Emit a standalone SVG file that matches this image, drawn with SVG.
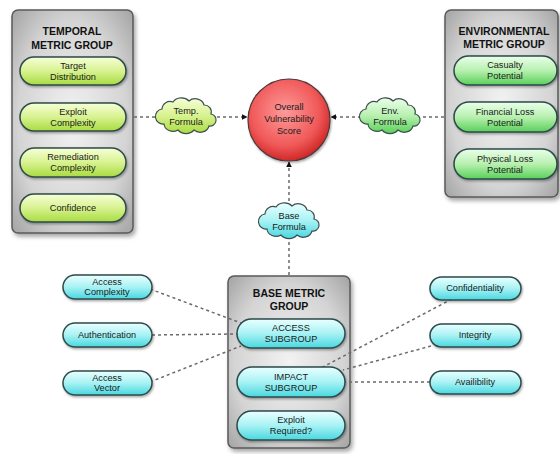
<svg xmlns="http://www.w3.org/2000/svg" xmlns:xlink="http://www.w3.org/1999/xlink" width="560" height="454" viewBox="0 0 560 454">
<style>
text{font-family:"Liberation Sans",Arial,sans-serif;fill:#1a1a1a;text-anchor:middle}
.t{font-weight:bold;font-size:10.5px;fill:#111}
.p{font-size:9.2px}
.grp{fill:url(#gray);stroke:#5a5a5a;stroke-width:1.5;filter:url(#sh)}
.pill{stroke:#2e4a4a;stroke-width:1.5;filter:url(#sh2)}
.yg{fill:url(#yg)}
.lg{fill:url(#lg)}
.cy{fill:url(#cy)}
.cn line{stroke:#6a6a6a;stroke-width:1.5;stroke-dasharray:3,3}
.cloud{stroke:#3e4e4e;stroke-width:1.2}
</style>
<defs>
<radialGradient id="gray" cx="0.5" cy="0.5" r="0.75">
<stop offset="0" stop-color="#f2f2f2"/><stop offset="0.6" stop-color="#d4d4d4"/><stop offset="1" stop-color="#9a9a9a"/>
</radialGradient>
<linearGradient id="yg" x1="0" y1="0" x2="0" y2="1">
<stop offset="0" stop-color="#f6ffd8"/><stop offset="0.5" stop-color="#d8f290"/><stop offset="1" stop-color="#a8dc40"/>
</linearGradient>
<linearGradient id="lg" x1="0" y1="0" x2="0" y2="1">
<stop offset="0" stop-color="#eaffea"/><stop offset="0.5" stop-color="#b8f0b0"/><stop offset="1" stop-color="#58d058"/>
</linearGradient>
<linearGradient id="cy" x1="0" y1="0" x2="0" y2="1">
<stop offset="0" stop-color="#eaffff"/><stop offset="0.5" stop-color="#a8f2f4"/><stop offset="1" stop-color="#48d8e0"/>
</linearGradient>
<radialGradient id="red" cx="0.45" cy="0.4" r="0.6">
<stop offset="0" stop-color="#ff9a9a"/><stop offset="0.7" stop-color="#f05858"/><stop offset="1" stop-color="#d02828"/>
</radialGradient>
<filter id="sh" x="-10%" y="-10%" width="125%" height="125%">
<feDropShadow dx="2" dy="3" stdDeviation="2" flood-color="#000" flood-opacity="0.35"/>
</filter>
<filter id="sh2" x="-10%" y="-20%" width="125%" height="150%">
<feDropShadow dx="1" dy="1.5" stdDeviation="1" flood-color="#000" flood-opacity="0.35"/>
</filter>
<marker id="ah" viewBox="0 0 10 10" refX="9" refY="5" markerWidth="6" markerHeight="6" orient="auto" markerUnits="userSpaceOnUse">
<path d="M0,0 L10,5 L0,10 z" fill="#111"/>
</marker>
<path id="cloud" d="M-26,-8 a8,8 0 0 1 11,-7 a10,9 0 0 1 16,-1 a9,8 0 0 1 15,4 a7,7 0 0 1 7,9 a6,6 0 0 1 -2,12 a9,8 0 0 1 -15,4 a10,9 0 0 1 -16,0 a9,8 0 0 1 -14,-6 a7,7 0 0 1 -2,-15 z"/>
</defs>

<g id="temporal-group">
<rect class="grp" x="12" y="10" width="121" height="223" rx="6"/>
<text class="t" x="72" y="35">TEMPORAL</text>
<text class="t" x="72" y="49">METRIC GROUP</text>
</g>
<g id="environmental-group">
<rect class="grp" x="445" y="10" width="113" height="187" rx="6"/>
<text class="t" x="504" y="35">ENVIRONMENTAL</text>
<text class="t" x="504" y="48">METRIC GROUP</text>
</g>
<g id="base-group">
<rect class="grp" x="228" y="276" width="122" height="172" rx="6"/>
<text class="t" x="289" y="297">BASE METRIC</text>
<text class="t" x="289" y="310">GROUP</text>
</g>

<g id="connectors" class="cn">
<line x1="134" y1="117" x2="157" y2="117"/>
<line x1="217" y1="117" x2="247" y2="117" marker-end="url(#ah)"/>
<line x1="444" y1="117" x2="421" y2="117"/>
<line x1="361" y1="117" x2="331" y2="117" marker-end="url(#ah)"/>
<line x1="289" y1="275" x2="289" y2="237"/>
<line x1="289" y1="207" x2="289" y2="162" marker-end="url(#ah)"/>
<line x1="150" y1="289" x2="241" y2="323"/>
<line x1="152" y1="335" x2="237" y2="334"/>
<line x1="150" y1="382" x2="241" y2="346"/>
<line x1="452" y1="299" x2="321" y2="368"/>
<line x1="431" y1="346" x2="343" y2="370"/>
<line x1="430" y1="382" x2="345" y2="382"/>
</g>

<g id="target-distribution"><rect class="pill yg" x="20" y="57" width="106" height="28" rx="14"/><text class="p" x="73" y="69">Target</text><text class="p" x="73" y="80">Distribution</text></g>
<g id="exploit-complexity"><rect class="pill yg" x="20" y="103" width="106" height="28" rx="14"/><text class="p" x="73" y="115">Exploit</text><text class="p" x="73" y="126">Complexity</text></g>
<g id="remediation-complexity"><rect class="pill yg" x="20" y="148" width="106" height="29" rx="14.5"/><text class="p" x="73" y="160">Remediation</text><text class="p" x="73" y="171">Complexity</text></g>
<g id="confidence"><rect class="pill yg" x="20" y="194" width="106" height="28" rx="14"/><text class="p" x="73" y="211">Confidence</text></g>

<g id="casualty-potential"><rect class="pill lg" x="454" y="56" width="103" height="29" rx="14.5"/><text class="p" x="505" y="68">Casualty</text><text class="p" x="505" y="79">Potential</text></g>
<g id="financial-loss-potential"><rect class="pill lg" x="454" y="102" width="103" height="30" rx="15"/><text class="p" x="505" y="115">Financial Loss</text><text class="p" x="505" y="126">Potential</text></g>
<g id="physical-loss-potential"><rect class="pill lg" x="454" y="149" width="103" height="30" rx="15"/><text class="p" x="505" y="162">Physical Loss</text><text class="p" x="505" y="173">Potential</text></g>

<g id="overall-score">
<circle cx="289" cy="120" r="41" fill="url(#red)" stroke="#4a3a3a" stroke-width="1.2" filter="url(#sh2)"/>
<text class="p" x="289" y="110">Overall</text>
<text class="p" x="289" y="122">Vulnerability</text>
<text class="p" x="289" y="134">Score</text>
</g>

<g id="temp-formula"><use xlink:href="#cloud" x="188" y="117" class="cloud" fill="url(#yg)"/><text class="p" x="186" y="114">Temp.</text><text class="p" x="186" y="125">Formula</text></g>
<g id="env-formula"><use xlink:href="#cloud" x="392" y="117" class="cloud" fill="url(#lg)"/><text class="p" x="390" y="114">Env.</text><text class="p" x="390" y="125">Formula</text></g>
<g id="base-formula"><use xlink:href="#cloud" x="291" y="222" class="cloud" fill="url(#cy)"/><text class="p" x="289" y="219">Base</text><text class="p" x="289" y="230">Formula</text></g>

<g id="access-subgroup"><rect class="pill cy" x="237" y="319" width="108" height="29" rx="14.5"/><text class="p" x="291" y="331">ACCESS</text><text class="p" x="291" y="342">SUBGROUP</text></g>
<g id="impact-subgroup"><rect class="pill cy" x="237" y="367" width="108" height="30" rx="15"/><text class="p" x="291" y="380">IMPACT</text><text class="p" x="291" y="391">SUBGROUP</text></g>
<g id="exploit-required"><rect class="pill cy" x="237" y="411" width="108" height="29" rx="14.5"/><text class="p" x="291" y="423">Exploit</text><text class="p" x="291" y="434">Required?</text></g>

<g id="access-complexity"><rect class="pill cy" x="63" y="275" width="89" height="24" rx="12"/><text class="p" x="107" y="285">Access</text><text class="p" x="107" y="295">Complexity</text></g>
<g id="authentication"><rect class="pill cy" x="63" y="323" width="89" height="24" rx="12"/><text class="p" x="107" y="338">Authentication</text></g>
<g id="access-vector"><rect class="pill cy" x="63" y="371" width="89" height="24" rx="12"/><text class="p" x="107" y="381">Access</text><text class="p" x="107" y="391">Vector</text></g>

<g id="confidentiality"><rect class="pill cy" x="430" y="277" width="91" height="23" rx="11.5"/><text class="p" x="475" y="291">Confidentiality</text></g>
<g id="integrity"><rect class="pill cy" x="430" y="324" width="91" height="23" rx="11.5"/><text class="p" x="475" y="338">Integrity</text></g>
<g id="availibility"><rect class="pill cy" x="430" y="371" width="91" height="23" rx="11.5"/><text class="p" x="475" y="385">Availibility</text></g>
</svg>
